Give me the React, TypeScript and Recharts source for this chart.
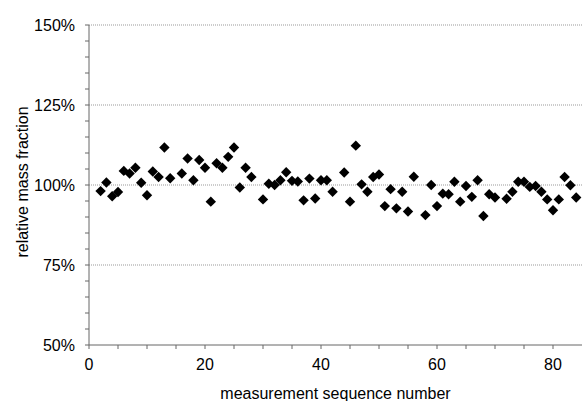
import React from 'react'
import { ScatterChart, Scatter, XAxis, YAxis, ReferenceLine, Label } from 'recharts'

// measurement sequence numbers (every 14th slot is skipped)
const seqNumbers = [
  2, 3, 4, 5, 6, 7, 8, 9, 10, 11, 12, 13, 14,
  16, 17, 18, 19, 20, 21, 22, 23, 24, 25, 26, 27, 28,
  30, 31, 32, 33, 34, 35, 36, 37, 38, 39, 40, 41, 42,
  44, 45, 46, 47, 48, 49, 50, 51, 52, 53, 54, 55, 56,
  58, 59, 60, 61, 62, 63, 64, 65, 66, 67, 68, 69, 70,
  72, 73, 74, 75, 76, 77, 78, 79, 80, 81, 82, 83, 84,
]

// relative mass fraction, in %
const massFraction = [
  98.1, 100.8, 96.5, 97.8, 104.4, 103.6, 105.4, 100.7, 96.8, 104.2, 102.5, 111.7, 102.1,
  103.6, 108.3, 101.5, 107.8, 105.4, 94.8, 106.8, 105.4, 108.8, 111.7, 99.2, 105.4, 102.5,
  95.5, 100.4, 100.0, 101.5, 104.0, 101.3, 101.1, 95.2, 102.0, 95.8, 101.5, 101.5, 97.9,
  103.9, 94.8, 112.3, 100.2, 97.9, 102.5, 103.3, 93.4, 98.7, 92.7, 97.9, 91.7, 102.6,
  90.6, 100.0, 93.4, 97.3, 97.1, 101.0, 94.8, 99.7, 96.3, 101.5, 90.3, 97.1, 96.1,
  95.7, 97.9, 101.0, 101.0, 99.4, 99.7, 97.9, 95.5, 92.1, 95.5, 102.5, 99.9, 96.1,
]

const xTicks = [0, 5, 10, 15, 20, 25, 30, 35, 40, 45, 50, 55, 60, 65, 70, 75, 80]
const xLabelled = [0, 20, 40, 60, 80]
const yTicks = [50, 55, 60, 65, 70, 75, 80, 85, 90, 95, 100, 105, 110, 115, 120, 125, 130, 135, 140, 145, 150]
const yLabelled = [50, 75, 100, 125, 150]
const gridLevels = [75, 100, 125, 150]

const data = seqNumbers.map((seq, i) => ({ seq, value: massFraction[i] }))

const FONT = '"Liberation Sans", Arial, sans-serif'
const AXIS = '#666'

const Diamond = (props: any) => {
  const { cx, cy } = props
  const r = 5.2
  return (
    <path
      d={`M${cx},${cy - r}L${cx + r},${cy}L${cx},${cy + r}L${cx - r},${cy}Z`}
      fill="#000"
    />
  )
}

export default function App() {
  return (
    <div style={{ position: 'absolute', left: 0, top: 0, background: '#fff' }}>
      <ScatterChart
        width={582}
        height={401}
        margin={{ top: 25, right: 0, bottom: 0, left: 0 }}
        style={{ fontFamily: FONT }}
      >
        {gridLevels.map((lvl) => (
          <ReferenceLine key={lvl} y={lvl} stroke="#999" strokeDasharray="1 1" />
        ))}
        <XAxis
          type="number"
          dataKey="seq"
          domain={[0, 85]}
          ticks={xTicks}
          interval={0}
          height={56}
          tickSize={4}
          tickMargin={10}
          stroke={AXIS}
          tick={{ fill: '#000', fontSize: 16, fontFamily: FONT }}
          tickFormatter={(v: number) => (xLabelled.includes(v) ? String(v) : '')}
        >
          <Label
            content={(p: any) => {
              const vb = p.viewBox
              return (
                <text
                  x={vb.x + vb.width / 2}
                  y={393}
                  textAnchor="middle"
                  dominantBaseline="central"
                  fontSize={16}
                  fontFamily={FONT}
                  fill="#000"
                >
                  measurement sequence number
                </text>
              )
            }}
          />
        </XAxis>
        <YAxis
          type="number"
          dataKey="value"
          domain={[50, 150]}
          ticks={yTicks}
          interval={0}
          width={89}
          tickSize={4}
          tickMargin={10}
          stroke={AXIS}
          tick={{ fill: '#000', fontSize: 16, fontFamily: FONT }}
          tickFormatter={(v: number) => (yLabelled.includes(v) ? `${v}%` : '')}
        >
          <Label
            content={(p: any) => {
              const vb = p.viewBox
              const cx = 22
              const cy = vb.y + vb.height / 2 - 3
              return (
                <text
                  x={cx}
                  y={cy}
                  transform={`rotate(-90 ${cx} ${cy})`}
                  textAnchor="middle"
                  dominantBaseline="central"
                  fontSize={16}
                  fontFamily={FONT}
                  fill="#000"
                >
                  relative mass fraction
                </text>
              )
            }}
          />
        </YAxis>
        <Scatter data={data} shape={<Diamond />} isAnimationActive={false} />
      </ScatterChart>
    </div>
  )
}
